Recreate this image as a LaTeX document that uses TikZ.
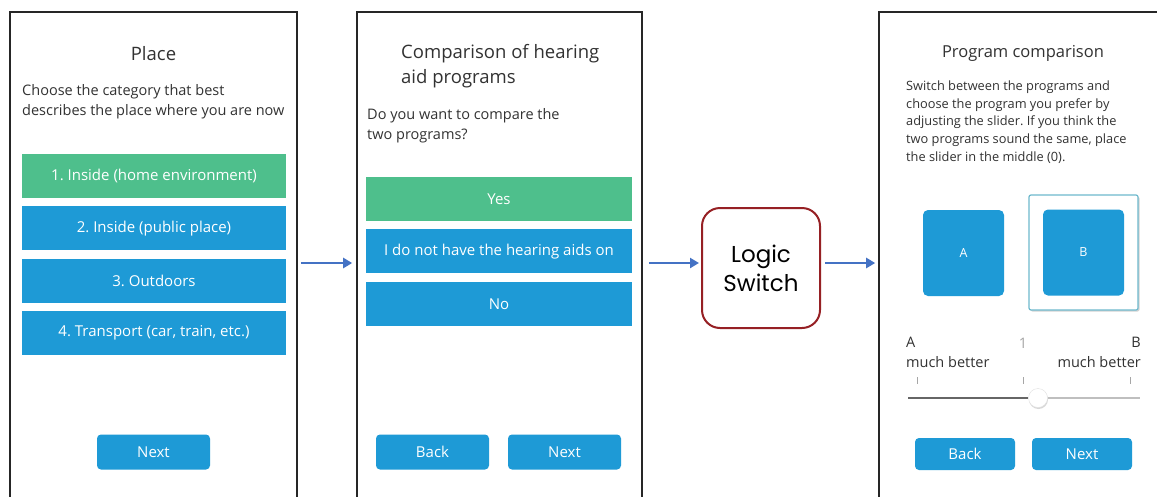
\documentclass[tikz,border=0pt]{standalone}
\usepackage{fontspec}
\setmainfont{Open Sans}
\newfontfamily\logicfont{Poppins}
\usetikzlibrary{positioning,arrows.meta,shadows}
\frenchspacing

\definecolor{appblue}{RGB}{30,154,214}
\definecolor{appgreen}{RGB}{78,191,140}
\definecolor{flowblue}{RGB}{68,114,196}
\definecolor{switchred}{RGB}{150,32,36}
\definecolor{inktext}{RGB}{50,50,50}
\definecolor{selframe}{RGB}{110,185,205}

\begin{document}
\begin{tikzpicture}[x=1pt, y=-1pt,
    screen/.style={rectangle, draw=black!85, line width=1.6pt, inner sep=0pt, minimum height=502pt},
    title/.style={text=inktext, inner sep=0pt, font=\fontsize{18.5}{25}\selectfont},
    prompt/.style={text=inktext, inner sep=0pt, align=left, anchor=base west, font=\fontsize{14.5}{20}\selectfont},
    choice/.style={rectangle, fill=appblue, text=white, inner sep=0pt, minimum height=44pt, font=\fontsize{15}{17}\selectfont},
    navbtn/.style={rectangle, rounded corners=4pt, fill=appblue, text=white, inner sep=0pt, minimum width=113pt, minimum height=35pt, font=\fontsize{15}{17}\selectfont},
    progbox/.style={rectangle, rounded corners=5pt, fill=appblue, text=white, inner sep=0pt, minimum width=81pt, minimum height=86pt, font=\fontsize{12.5}{14}\selectfont},
    sliderlabel/.style={text=inktext, inner sep=0pt, font=\fontsize{14.5}{18}\selectfont},
    flow/.style={-{Triangle[length=9pt,width=10pt]}, draw=flowblue, line width=2.8pt}]

\useasboundingbox (0,0) rectangle (1157,496);
\clip (0,0) rectangle (1157,496);
\fill[white] (0,0) rectangle (1157,496);

% Screen 1: place
\node[screen, minimum width=287pt] (place) at (153.5,263) {};
\node[title] (placetitle) at (153.5,54) {Place};
\node[prompt] (placeq) at (22,115) {Choose the category that best\\describes the place where you are now};
\node[choice, fill=appgreen, minimum width=264pt] (home) at (154,176) {1. Inside (home environment)};
\node[choice, minimum width=264pt, below=8pt of home] (public) {2. Inside (public place)};
\node[choice, minimum width=264pt, below=8pt of public] (outdoors) {3. Outdoors};
\node[choice, minimum width=264pt, below=8pt of outdoors] (transport) {4. Transport (car, train, etc.)};
\node[navbtn] (placenext) at (153.5,452) {Next};

% Screen 2: compare?
\node[screen, minimum width=285pt] (compare) at (499.5,263) {};
\node[title, align=left, anchor=base west] (comparetitle) at (401,83) {Comparison of hearing\\aid programs};
\node[prompt] (compareq) at (367,139) {Do you want to compare the\\two programs?};
\node[choice, fill=appgreen, minimum width=266pt] (yes) at (499,199) {Yes};
\node[choice, minimum width=266pt, below=8pt of yes] (noaids) {I do not have the hearing aids on};
\node[choice, minimum width=266pt, below=8pt of noaids] (no) {No};
\node[navbtn] (compareback) at (432.5,452) {Back};
\node[navbtn] (comparenext) at (564.5,452) {Next};

% Logic switch
\node[rectangle, rounded corners=18pt, draw=switchred, line width=2pt, minimum width=118pt, minimum height=120pt,
      align=center, font=\logicfont\fontsize{23}{29}\selectfont] (switch) at (761,268) {Logic\\Switch};

% Screen 3: program comparison
\node[screen, minimum width=296pt] (program) at (1027,263) {};
\node[title, font=\fontsize{16.5}{20}\selectfont] (programtitle) at (1023,53) {Program comparison};
\node[prompt, font=\fontsize{12.8}{17.6}\selectfont] (programq) at (906,161)
  {Switch between the programs and\\choose the program you prefer by\\adjusting the slider. If you think the\\two programs sound the same, place\\the slider in the middle (0).};
\node[progbox] (proga) at (963.5,253) {A};
\node[rectangle, rounded corners=2pt, draw=selframe, line width=1.2pt, fill=white, minimum width=109pt, minimum height=115pt,
      drop shadow={opacity=0.35, shadow xshift=1.5pt, shadow yshift=-1.5pt}] (selected) at (1083.5,252.5) {};
\node[progbox] (progb) at (selected.center) {B};

% Slider
\node[sliderlabel, anchor=base west] (alabel) at (906,347) {A};
\node[sliderlabel, anchor=base west] (abetter) at (906,367) {much better};
\node[sliderlabel, anchor=base east] (blabel) at (1141,347) {B};
\node[sliderlabel, anchor=base east] (bbetter) at (1141,367) {much better};
\node[sliderlabel, text=black!35] (midlabel) at (1023,343) {1};
\foreach \tx in {917,1023,1130}
  \draw[black!35, line width=0.8pt] (\tx,377) -- (\tx,384);
\node[circle, fill=white, draw=black!12, minimum size=19pt, inner sep=0pt,
      drop shadow={opacity=0.3, shadow xshift=0.5pt, shadow yshift=-1.5pt}] (thumb) at (1038,398) {};
\draw[black!60, line width=1.6pt] (908,398) -- (thumb.west);
\draw[black!25, line width=1.6pt] (thumb.east) -- (1140,398);
\node[navbtn, minimum width=100pt, minimum height=32pt] (programback) at (965,454) {Back};
\node[navbtn, minimum width=100pt, minimum height=32pt] (programnext) at (1082,454) {Next};

% Connections
\draw[flow, shorten <=3pt, shorten >=4pt] (place.east) -- (compare.west);
\draw[flow, shorten <=6pt, shorten >=2pt] (compare.east) -- (compare.east -| switch.west);
\draw[flow, shorten <=4pt, shorten >=3pt] (switch.east |- program.west) -- (program.west);

\end{tikzpicture}
\end{document}
